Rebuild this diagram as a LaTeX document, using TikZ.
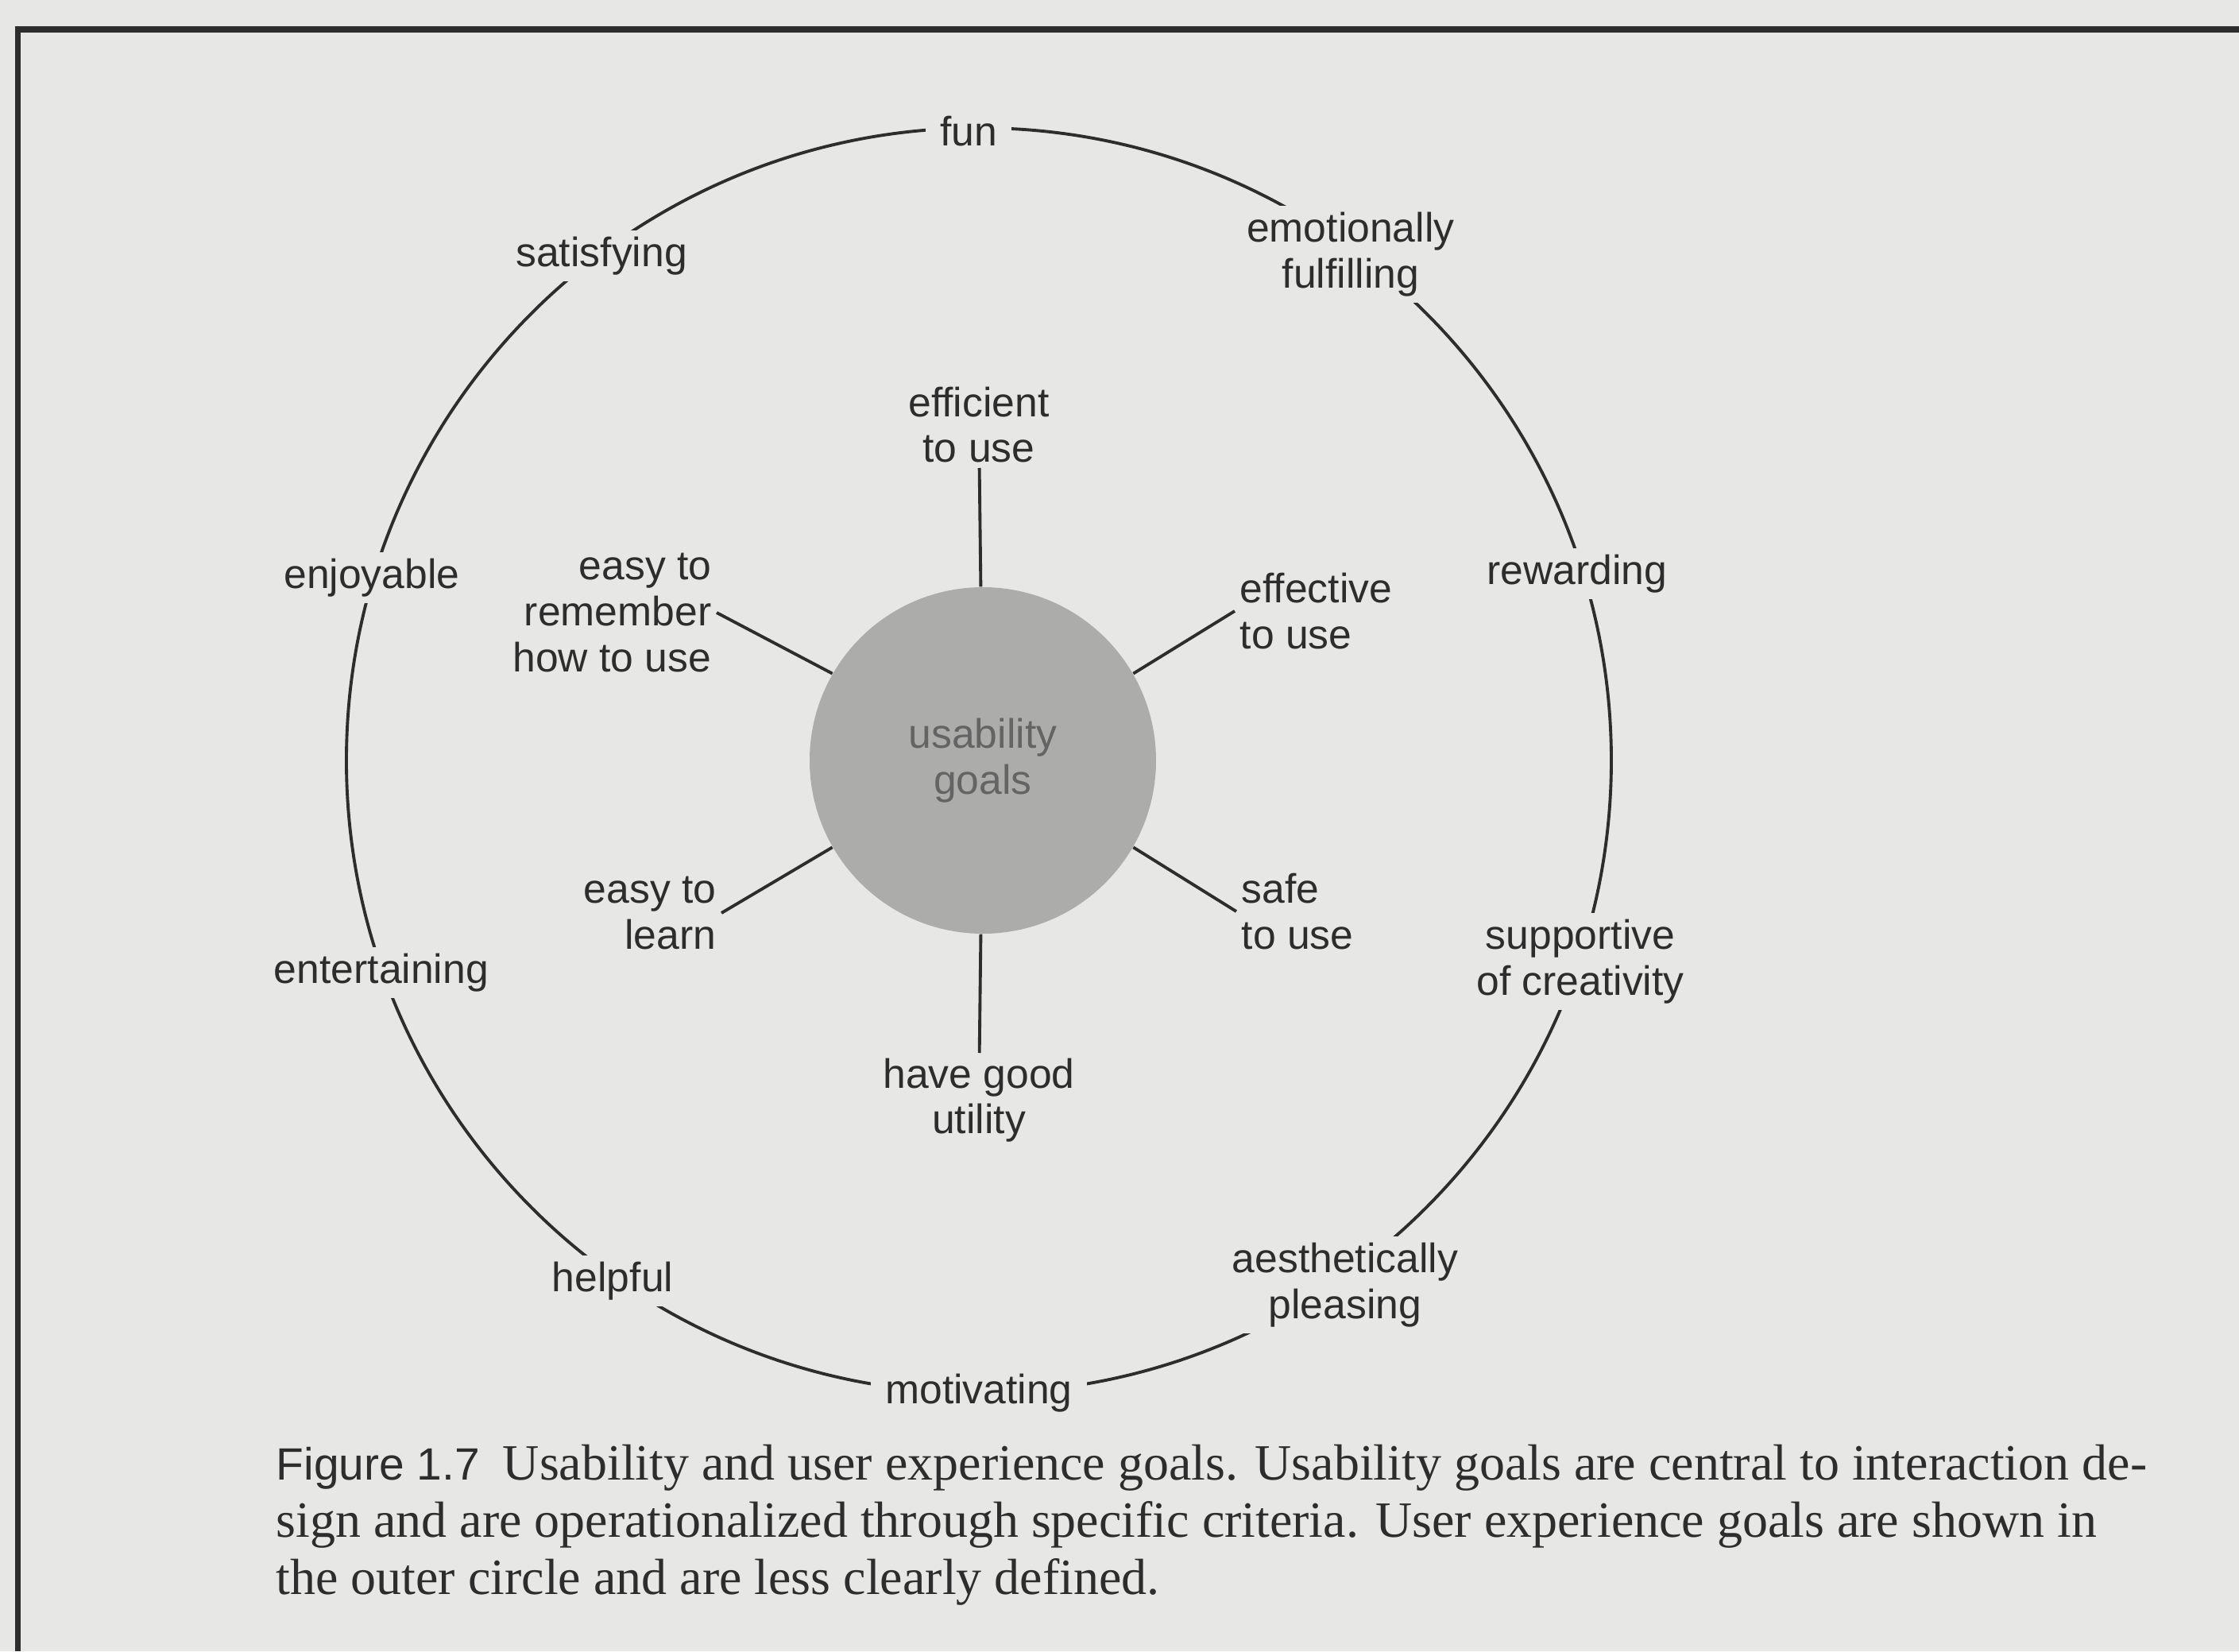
\documentclass[tikz,border=0pt]{standalone}
\usepackage{fontspec}
\setmainfont{Liberation Serif}
\setsansfont{Liberation Sans}
\usetikzlibrary{positioning}
\definecolor{paper}{RGB}{231, 231, 229}
\definecolor{ink}{RGB}{45, 45, 45}
\definecolor{diskgray}{RGB}{172, 172, 170}
\definecolor{softink}{RGB}{100, 100, 100}

\begin{document}
\begin{tikzpicture}[
    outergoal/.style={
        fill=paper, text=ink, align=center,
        inner xsep=0.18cm, inner ysep=0.08cm,
        font=\sffamily\fontsize{14.7}{16.4}\selectfont
    },
    innergoal/.style={
        text=ink, inner sep=0.06cm,
        font=\sffamily\fontsize{14.7}{16.4}\selectfont
    },
    ring/.style={
        circle, draw=ink, line width=1.1pt,
        minimum size=15.92cm, inner sep=0pt
    },
    core/.style={
        circle, fill=diskgray, minimum size=4.36cm, inner sep=0pt,
        align=center, text=softink,
        font=\sffamily\fontsize{14.7}{16.4}\selectfont
    },
    spoke/.style={ink, line width=1.1pt},
    frameline/.style={ink, line width=2pt},
    captiontext/.style={
        text=ink, align=left, inner sep=0pt,
        font=\rmfamily\fontsize{18.2}{20.5}\selectfont
    }
]

% PAGE
\fill[paper] (-12.32, 9.57) rectangle (15.86, -11.21);
\useasboundingbox (-12.32, 9.57) rectangle (15.86, -11.21);

% FRAME - only the top and left rules show
\draw[frameline] (15.86, 9.20) -- (-12.09, 9.20) -- (-12.09, -11.21);

% OUTER RING - user experience goals sit on it
\node[ring] at (0, 0) (ring) {};

% CORE DISK
\node[core] at (0.05, 0) (goals) {usability\\goals};

% USABILITY GOALS
\node[innergoal, anchor=south, align=center] at (0, 3.68) (efficient) {efficient\\to use};
\node[innergoal, anchor=west, align=left] at (3.22, 1.88) (effective) {effective\\to use};
\node[innergoal, anchor=west, align=left] at (3.24, -1.90) (safe) {safe\\to use};
\node[innergoal, anchor=north, align=center] at (0, -3.68) (utility) {have good\\utility};
\node[innergoal, anchor=east, align=right] at (-3.24, -1.92) (learn) {easy to\\learn};
\node[innergoal, anchor=east, align=right] at (-3.30, 1.86) (remember) {easy to\\remember\\how to use};

% SPOKES: CORE -> USABILITY GOALS
\draw[spoke] (goals) -- (efficient);
\draw[spoke] (goals.30) -- (effective.west);
\draw[spoke] (goals.330) -- (safe.west);
\draw[spoke] (goals) -- (utility);
\draw[spoke] (goals.210) -- (learn.east);
\draw[spoke] (goals.150) -- (remember.east);

% USER EXPERIENCE GOALS - every 36 degrees round the ring
\node[outergoal, xshift=-0.13cm, yshift=-0.04cm] at (90:7.96) (fun) {fun};
\node[outergoal, yshift=-0.07cm] at (54:7.96) (fulfilling) {emotionally\\fulfilling};
\node[outergoal, xshift=-0.04cm, yshift=-0.11cm] at (18:7.96) (rewarding) {rewarding};
\node[outergoal, yshift=-0.07cm] at (-18:7.96) (supportive) {supportive\\of creativity};
\node[outergoal, xshift=-0.07cm, yshift=-0.16cm] at (-54:7.96) (aesthetic) {aesthetically\\pleasing};
\node[outergoal] at (-90:7.96) (motivating) {motivating};
\node[outergoal, xshift=0.07cm, yshift=-0.11cm] at (-126:7.96) (helpful) {helpful};
\node[outergoal, xshift=0.05cm, yshift=-0.21cm] at (-162:7.96) (entertaining) {entertaining};
\node[outergoal, xshift=-0.07cm, yshift=-0.16cm] at (162:7.96) (enjoyable) {enjoyable};
\node[outergoal, xshift=-0.07cm, yshift=-0.09cm] at (126:7.96) (satisfying) {satisfying};

% CAPTION
\node[captiontext, anchor=north west] at (-8.85, -8.60) (caption) {%
    {\sffamily\fontsize{16.2}{20.5}\selectfont Figure 1.7}\hspace{0.45em}Usability and user experience goals. Usability goals are central to interaction de-\\
    sign and are operationalized through specific criteria. User experience goals are shown in\\
    the outer circle and are less clearly defined.};

\end{tikzpicture}
\end{document}
